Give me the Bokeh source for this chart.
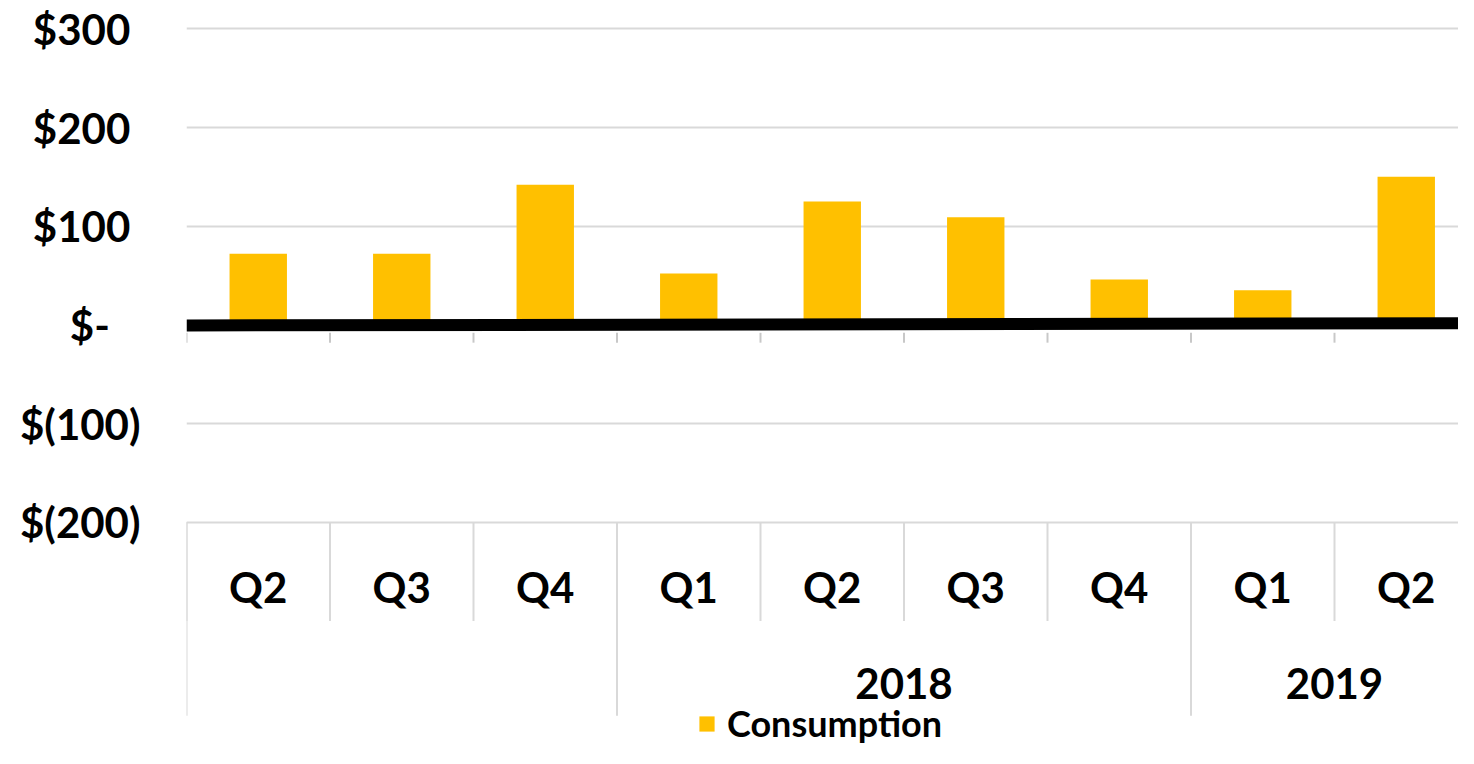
from bokeh.plotting import figure
from bokeh.models import FixedTicker, Legend, LegendItem, Range1d, ColumnDataSource
from bokeh.core.properties import value
from bokeh.embed import file_html
from bokeh.resources import INLINE

# ---------------- data ----------------
quarters = ["Q2", "Q3", "Q4", "Q1", "Q2", "Q3", "Q4", "Q1", "Q2"]
years = ["2017", "2017", "2017", "2018", "2018", "2018", "2018", "2019", "2019"]
year_labels = {"2017": "", "2018": "2018", "2019": "2019"}
consumption = [72, 72, 142, 52, 125, 109, 46, 35, 150]
y_ticks = [-200, -100, 0, 100, 200, 300]
y_tick_labels = ["$(200)", "$(100)", "$-\u00a0\u00a0\u00a0", "$100\u00a0", "$200\u00a0", "$300\u00a0"]
zero_line_y = [-0.6, 1.7]   # heavy black baseline (slightly tilted in the original)

# ---------------- layout ----------------
W, H = 1458, 748
BORDER_L, BORDER_T = 186, 10
PX_X = 143.5        # px per category
PX_Y = 0.987        # px per dollar
frame_w = W - BORDER_L
frame_h = H - BORDER_T
x_start = -0.5
x_end = x_start + frame_w / PX_X
y_end = 300 + (28.3 - BORDER_T) / PX_Y
y_start = y_end - frame_h / PX_Y

FONT = "Lato"
GRID = "#d9d9d9"
BAR = "#FFC000"

p = figure(width=W, height=H, x_range=Range1d(x_start, x_end), y_range=Range1d(y_start, y_end),
           output_backend="svg", toolbar_location=None, x_axis_location=None,
           min_border_left=BORDER_L, min_border_right=0, min_border_top=BORDER_T, min_border_bottom=0)
p.outline_line_color = None
p.xgrid.visible = False
p.ygrid.ticker = FixedTicker(ticks=[t for t in y_ticks if t != 0])
p.ygrid.grid_line_color = GRID
p.ygrid.grid_line_width = 2

ax = p.yaxis[0]
ax.ticker = FixedTicker(ticks=y_ticks)
ax.major_label_overrides = {t: l for t, l in zip(y_ticks, y_tick_labels)}
ax.axis_line_color = None
ax.major_tick_line_color = None
ax.minor_tick_line_color = None
ax.major_tick_out = 0
ax.major_label_standoff = 46
ax.major_label_text_font = FONT
ax.major_label_text_font_style = "bold"
ax.major_label_text_font_size = "42px"
ax.major_label_text_color = "black"

n = len(quarters)
idx = list(range(n))

# bars
src = ColumnDataSource(dict(x=idx, top=consumption))
bars = p.vbar(x="x", top="top", bottom=0, width=0.4, source=src, fill_color=BAR, line_color=None)

# category table (multi-level axis)
row1_bottom = -300
row2_bottom = -396
bounds = [i - 0.5 for i in range(n + 1)]
p.segment(x0=bounds, y0=[-200] * len(bounds), x1=bounds, y1=[row1_bottom] * len(bounds),
          line_color=GRID, line_width=2)
year_bounds = [-0.5] + [i - 0.5 for i in range(1, n) if years[i] != years[i - 1]] + [n - 0.5]
p.segment(x0=year_bounds, y0=[-200] * len(year_bounds), x1=year_bounds,
          y1=[row2_bottom] * len(year_bounds), line_color=GRID, line_width=2)

p.text(x=idx, y=[-266] * n, text=quarters, text_font=value(FONT), text_font_style="bold",
       text_font_size="42px", text_align="center", text_baseline="middle", text_color="black")

groups = []
for y in dict.fromkeys(years):
    members = [i for i in idx if years[i] == y]
    groups.append((sum(members) / len(members), year_labels[y]))
p.text(x=[g[0] for g in groups], y=[-363] * len(groups), text=[g[1] for g in groups],
       text_font=value(FONT), text_font_style="bold", text_font_size="42px",
       text_align="center", text_baseline="middle", text_color="black")

# small tick marks under the category axis
p.segment(x0=bounds, y0=[-8] * len(bounds), x1=bounds, y1=[-18] * len(bounds),
          line_color="#c8c8c8", line_width=2)

# heavy black zero line
p.line(x=[-0.5, n - 0.5], y=zero_line_y, line_color="black", line_width=12)

legend = Legend(items=[LegendItem(label="Consumption", renderers=[bars])],
                location=(511, 3), orientation="horizontal",
                glyph_width=19, glyph_height=19, label_standoff=11,
                padding=0, margin=0, border_line_color=None, background_fill_alpha=0,
                label_text_font=FONT, label_text_font_style="bold",
                label_text_font_size="36px", label_text_color="black")
p.add_layout(legend, "center")

open("out.html", "w").write(file_html(p, INLINE))
